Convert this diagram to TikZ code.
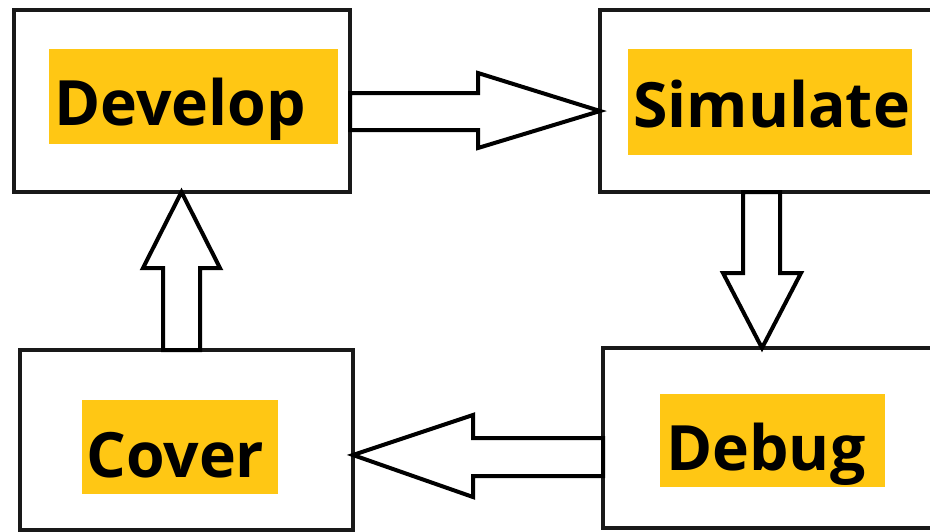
\documentclass[tikz,border=0pt]{standalone}
\usepackage{fontspec}
\setmainfont{Open Sans}
\usetikzlibrary{calc}
\definecolor{lab}{RGB}{255,199,20}
\tikzset{
  box/.style={draw=black!90, line width=4pt, fill=white, inner sep=0pt, outer sep=0pt},
  hl/.style={fill=lab, draw=none},
  lbl/.style={font=\fontsize{62.5}{62.5}\selectfont\bfseries, inner sep=0pt, anchor=base west},
  blockarrow/.style={draw=black, line width=4pt, fill=white, line join=miter}
}
\begin{document}
\begin{tikzpicture}[x=1pt,y=-1pt]
\useasboundingbox (0,0) rectangle (930,531);
\clip (0,0) rectangle (930,531);
% boxes
\node[box, minimum width=336, minimum height=182.5] (dev) at (182,100.75) {};
\node[box, minimum width=345, minimum height=182.5] (sim) at (772.5,100.75) {};
\node[box, minimum width=333, minimum height=180] (cov) at (186.5,440) {};
\node[box, minimum width=342, minimum height=180] (deb) at (774,438) {};
% highlights
\fill[hl] (49,49) rectangle (338,144);
\fill[hl] (628,49) rectangle (912,155);
\fill[hl] (82,400) rectangle (278,494);
\fill[hl] (660,394) rectangle (885,487);
% labels
\node[lbl] (tdev) at (54,125) {Develop};
\node[lbl] (tsim) at (633,127) {Simulate};
\node[lbl] (tcov) at (86,477) {Cover};
\node[lbl] (tdeb) at (666,470) {Debug};
% arrows
\draw[blockarrow] (dev.east |- 0,93) -- (478,93) -- (478,73) -- (sim.west |- 0,111) -- (478,148) -- (478,130) -- (dev.east |- 0,130) -- cycle;
\draw[blockarrow] (sim.south -| 743,0) -- (743,273) -- (723,273) -- (deb.north -| 762,0) -- (801,273) -- (780,273) -- (sim.south -| 780,0) -- cycle;
\draw[blockarrow] (deb.west |- 0,438) -- (473,438) -- (473,415) -- (cov.east |- 0,455) -- (473,497) -- (473,476) -- (deb.west |- 0,476) -- cycle;
\draw[blockarrow] (cov.north -| 163,0) -- (163,268) -- (143,268) -- (dev.south -| 181.5,0) -- (220,268) -- (200,268) -- (cov.north -| 200,0) -- cycle;
\end{tikzpicture}
\end{document}
